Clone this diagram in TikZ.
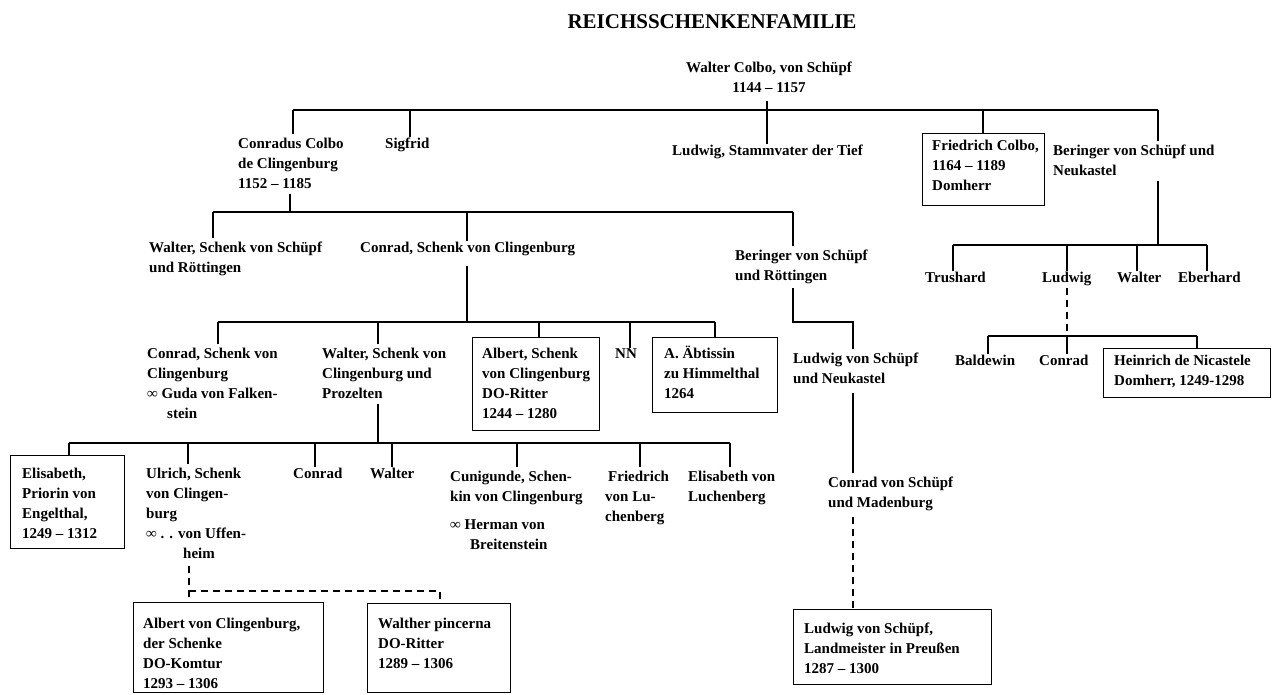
\documentclass[tikz,border=0pt]{standalone}
\usepackage{fontspec}
\setmainfont{Liberation Serif}
\newcommand{\ml}[1]{\begin{tabular}[t]{@{}l@{}}#1\end{tabular}}
\newcommand{\mlc}[1]{\begin{tabular}[t]{@{}c@{}}#1\end{tabular}}
\newcommand{\oo}{\char"221E}
\begin{document}
\begin{tikzpicture}[x=1pt,y=-1pt,
  lbl/.style={inner sep=0pt, anchor=base west, font=\bfseries\fontsize{15}{20}\selectfont},
  boxr/.style={draw, line width=1.2pt, inner sep=0pt, anchor=north west},
  ln/.style={line width=1.5pt},
  dln/.style={line width=1.3pt, dash pattern=on 7pt off 5pt}]
\useasboundingbox (0,0) rectangle (1274,694);
\fill[white] (0,0) rectangle (1274,694);

% title
\node[inner sep=0pt, font=\bfseries\fontsize{21}{24}\selectfont] (title) at (712,22) {REICHSSCHENKENFAMILIE};

% generation 0
\node[lbl, anchor=base] (walterA) at (769,72) {\mlc{Walter Colbo, von Schüpf\\1144 -- 1157}};

% generation 1
\node[lbl] (conradus) at (238,148) {\ml{Conradus Colbo\\de Clingenburg\\1152 -- 1185}};
\node[lbl] (sigfrid) at (385,148) {Sigfrid};
\node[lbl] (ludwigT) at (672,155) {Ludwig, Stammvater der Tief};
\node[boxr, minimum width=122pt, minimum height=72pt] (fbox) at (922,133) {};
\node[lbl] (ftext) at (932,150) {\ml{Friedrich Colbo,\\1164 -- 1189\\Domherr}};
\node[lbl] (beringerN) at (1053,155) {\ml{Beringer von Schüpf und\\Neukastel}};

% generation 2
\node[lbl] (walterR) at (149,252) {\ml{Walter, Schenk von Schüpf\\und Röttingen}};
\node[lbl] (conradC) at (360,252) {Conrad, Schenk von Clingenburg};
\node[lbl] (beringerR) at (735,260) {\ml{Beringer von Schüpf\\und Röttingen}};
\node[lbl] (trushard) at (925,282) {Trushard};
\node[lbl] (ludwigB) at (1042,282) {Ludwig};
\node[lbl] (walterB) at (1117,282) {Walter};
\node[lbl] (eberhard) at (1178,282) {Eberhard};

% generation 3
\node[lbl] (conradG) at (147,358) {\ml{Conrad, Schenk von\\Clingenburg\\\oo\ Guda von Falken-\\\hspace*{20pt}stein}};
\node[lbl] (walterP) at (322,358) {\ml{Walter, Schenk von\\Clingenburg und\\Prozelten}};
\node[boxr, minimum width=127pt, minimum height=93pt] (albox) at (472,337) {};
\node[lbl] (altext) at (482,358) {\ml{Albert, Schenk\\von Clingenburg\\DO-Ritter\\1244 -- 1280}};
\node[lbl] (nn) at (615,358) {NN};
\node[boxr, minimum width=125pt, minimum height=75pt] (abbox) at (652,337) {};
\node[lbl] (abtext) at (664,358) {\ml{A. Äbtissin\\zu Himmelthal\\1264}};
\node[lbl] (ludwigN) at (793,363) {\ml{Ludwig von Schüpf\\und Neukastel}};
\node[lbl] (baldewin) at (955,365) {Baldewin};
\node[lbl] (conradB) at (1039,365) {Conrad};
\node[boxr, minimum width=167pt, minimum height=49pt] (hbox) at (1103,348) {};
\node[lbl] (htext) at (1114,365) {\ml{Heinrich de Nicastele\\Domherr, 1249-1298}};

% generation 4
\node[boxr, minimum width=114pt, minimum height=93pt] (elbox) at (10,455) {};
\node[lbl] (eltext) at (22,478) {\ml{Elisabeth,\\Priorin von\\Engelthal,\\1249 -- 1312}};
\node[lbl] (ulrich) at (146,478) {\ml{Ulrich, Schenk\\von Clingen-\\burg\\\oo\ . . von Uffen-\\\hspace*{37pt}heim}};
\node[lbl] (conradU) at (293,478) {Conrad};
\node[lbl] (walterU) at (370,478) {Walter};
\node[lbl] (cunigunde) at (450,481) {\ml{Cunigunde, Schen-\\kin von Clingenburg\\[8pt]\oo\ Herman von\\\hspace*{20pt}Breitenstein}};
\node[lbl] (friedrichL) at (605,481) {\ml{\hspace*{3pt}Friedrich\\von Lu-\\chenberg}};
\node[lbl] (elisabethL) at (688,481) {\ml{Elisabeth von\\Luchenberg}};
\node[lbl] (conradM) at (828,487) {\ml{Conrad von Schüpf\\und Madenburg}};

% generation 5
\node[boxr, minimum width=190pt, minimum height=90pt] (ulbox) at (133,602) {};
\node[lbl] (ultext) at (143,628) {\ml{Albert von Clingenburg,\\der Schenke\\DO-Komtur\\1293 -- 1306}};
\node[boxr, minimum width=143pt, minimum height=89pt] (wpbox) at (367,603) {};
\node[lbl] (wptext) at (378,628) {\ml{Walther pincerna\\DO-Ritter\\1289 -- 1306}};
\node[boxr, minimum width=198pt, minimum height=75pt] (llbox) at (793,609) {};
\node[lbl] (lltext) at (804,633) {\ml{Ludwig von Schüpf,\\Landmeister in Preußen\\1287 -- 1300}};

% ---------- connectors ----------
% bar 1
\coordinate (b1w) at (293,110);
\coordinate (b1a) at (767,110);
\coordinate (b1s) at (410,110);
\coordinate (b1f) at (983,110);
\coordinate (b1e) at (1158,110);
\draw[ln] (b1w) -- (b1e);
\draw[ln, shorten <=3pt] (b1a |- walterA.south) -- (b1a |- ludwigT.north);
\draw[ln] (b1w) -- (b1w |- conradus.north);
\draw[ln] (b1s) -- (b1s |- sigfrid.north);
\draw[ln] (b1f) -- (b1f |- fbox.north);
\draw[ln] (b1e) -- (b1e |- beringerN.north);

% bar 2
\coordinate (b2w) at (213,212);
\coordinate (b2c) at (290,212);
\coordinate (b2m) at (467,212);
\coordinate (b2e) at (793,212);
\draw[ln] (b2c |- conradus.south) -- (b2c);
\draw[ln] (b2w) -- (b2e);
\draw[ln] (b2w) -- (b2w |- walterR.north);
\draw[ln] (b2m) -- (b2m |- conradC.north);
\draw[ln] (b2e) -- (b2e |- beringerR.north);

% bar 3
\coordinate (b3w) at (218,322);
\coordinate (b3p) at (378,322);
\coordinate (b3c) at (467,322);
\coordinate (b3a) at (539,322);
\coordinate (b3n) at (630,322);
\coordinate (b3e) at (715,322);
\draw[ln, shorten <=10pt] (b3c |- conradC.south) -- (b3c);
\draw[ln] (b3w) -- (b3e);
\draw[ln] (b3w) -- (b3w |- conradG.north);
\draw[ln] (b3p) -- (b3p |- walterP.north);
\draw[ln] (b3a) -- (b3a |- albox.north);
\draw[ln] (b3n) -- (b3n |- nn.north);
\draw[ln] (b3e) -- (b3e |- abbox.north);

% Beringer -> Ludwig -> Conrad -> Ludwig (Landmeister)
\coordinate (kn) at (853,322);
\draw[ln, shorten <=2pt] (b2e |- beringerR.south) -- (b2e |- kn) -- (kn) -- (kn |- ludwigN.north);
\draw[ln, shorten <=4pt] (kn |- ludwigN.south) -- (kn |- conradM.north);
\draw[dln, shorten <=4pt] (kn |- conradM.south) -- (kn |- llbox.north);

% bar 4
\coordinate (b4w) at (69,443);
\coordinate (b4u) at (188,443);
\coordinate (b4k) at (315,443);
\coordinate (b4p) at (378,443);
\coordinate (b4t) at (392,443);
\coordinate (b4c) at (517,443);
\coordinate (b4f) at (640,443);
\coordinate (b4e) at (730,443);
\draw[ln] (b4p |- walterP.south) -- (b4p);
\draw[ln] (b4w) -- (b4e);
\draw[ln] (b4w) -- (b4w |- elbox.north);
\draw[ln] (b4u) -- (b4u |- ulrich.north);
\draw[ln] (b4k) -- (b4k |- conradU.north);
\draw[ln] (b4t) -- (b4t |- walterU.north);
\draw[ln] (b4c) -- (b4c |- cunigunde.north);
\draw[ln] (b4f) -- (b4f |- friedrichL.north);
\draw[ln] (b4e) -- (b4e |- elisabethL.north);

% Ulrich -> Albert, Walther (dashed)
\coordinate (ud) at (189,591);
\coordinate (wd) at (440,591);
\draw[dln, shorten <=2pt] (ud |- ulrich.south) -- (ud |- ulbox.north);
\draw[dln] (ud) -- (wd) -- (wd |- wpbox.north);

% bar 5
\coordinate (b5w) at (953,245);
\coordinate (b5l) at (1067,245);
\coordinate (b5m) at (1137,245);
\coordinate (b5e) at (1207,245);
\draw[ln] (b1e |- beringerN.south) -- (b1e |- b5w);
\draw[ln] (b5w) -- (b5e);
\draw[ln] (b5w) -- (b5w |- trushard.north);
\draw[ln] (b5l) -- (b5l |- ludwigB.north);
\draw[ln] (b5m) -- (b5m |- walterB.north);
\draw[ln] (b5e) -- (b5e |- eberhard.north);

% bar 6
\coordinate (lb) at (1067,336);
\coordinate (b6w) at (988,336);
\coordinate (b6e) at (1197,336);
\draw[dln, shorten <=2pt] (lb |- ludwigB.south) -- (lb);
\draw[ln] (b6w) -- (b6e);
\draw[ln] (b6w) -- (b6w |- baldewin.north);
\draw[ln] (lb) -- (lb |- conradB.north);
\draw[ln] (b6e) -- (b6e |- hbox.north);
\end{tikzpicture}
\end{document}
